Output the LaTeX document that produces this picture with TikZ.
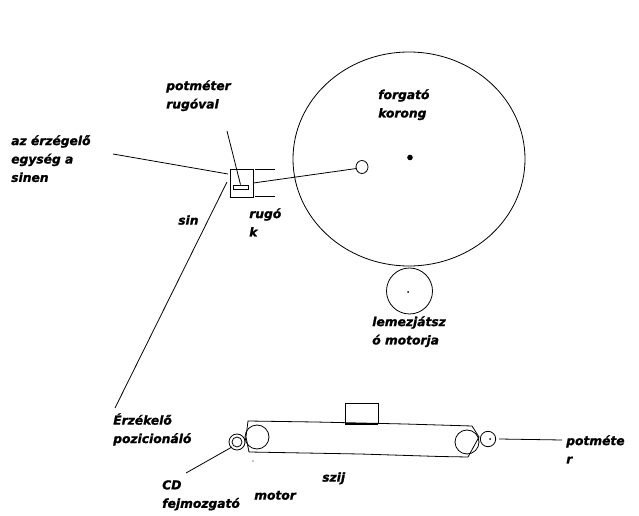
\documentclass[tikz,border=0pt]{standalone}
\usepackage{fontspec}
\setmainfont{DejaVu Sans}
\newfontfamily\lblfont[FakeBold=1.2]{DejaVu Sans}
\begin{document}
\begin{tikzpicture}[x=0.75pt,y=-0.75pt,
  ln/.style={draw=black,line width=0.6pt},
  lbl/.style={anchor=north west,inner sep=0pt,align=left,font=\lblfont\fontsize{9.2pt}{13.8pt}\selectfont\bfseries\itshape,execute at begin node=\rule{0pt}{10pt}}]
\useasboundingbox (0,0) rectangle (639,516);
\fill[white] (0,0) rectangle (639,516);
% turntable
\draw[ln] (409,159) ellipse [x radius=116,y radius=107];
\draw[ln] (362,167) ellipse [x radius=6,y radius=6.5];
\fill (410,157.5) circle (2.8);
\draw[ln] (409.5,291) circle (23);
\fill (408,292) circle (1);
% sensor carriage
\node[ln,rectangle,inner sep=0pt,minimum width=17.25pt,minimum height=21pt] (carriage) at (241.5,183) {};
\node[ln,rectangle,inner sep=0pt,minimum width=11.25pt,minimum height=3pt] (slider) at (240.5,187) {};
\coordinate (railA) at (113,154); \coordinate (railB) at (228,174);
\coordinate (railC) at (227,182); \coordinate (railD) at (115,408);
\coordinate (potTop) at (227,131);
\coordinate (pin) at (356.5,168.5);
\draw[ln] (railA) -- (railB);
\draw[ln] (railC) -- (railD);
\draw[ln] (potTop) -- (slider.north);
\draw[ln] (255,169) -- (275,169);
\draw[ln] (255,196) -- (275,196);
\draw[ln] (carriage.east) -- (pin);
% belt drive
\draw[ln] (257,437) circle (12);
\draw[ln] (237,442) circle (8);
\draw[ln] (237,442) circle (5);
\draw[ln] (467,442) circle (12);
\draw[ln] (488,439) circle (7.7);
\fill (490,439) circle (1);
\draw[ln] (249,452) -- (246,437) -- (248,421) -- (315,422) -- (405,424) -- (472,426) -- (479,437) -- (468,457) -- (440,456.5) -- (360,454) -- (249,452);
\draw[ln] (345,424) -- (345,403) -- (378,403) -- (378,424);
\draw[black,line width=1pt] (345,424) -- (378,424);
\draw[ln] (499,439) -- (562,440);
\draw[ln] (186,473) -- (232,447);
\fill (253,461) circle (0.6);
% labels
\node[lbl] (l1) at (166,80) {potméter\\rugóval};
\node[lbl] (l2) at (11,135) {az érzégelő\\egység a\\sinen};
\node[lbl] (l3) at (378,89) {forgató\\korong};
\node[lbl] (l4) at (178,211) {sin};
\node[lbl] (l5) at (249,208) {rugó\\k};
\node[lbl] (l6) at (372,316) {lemezjátsz\\ó motorja};
\node[lbl] (l7) at (113,413) {Érzékelő\\pozicionáló};
\node[lbl] (l8) at (162,480) {CD\\fejmozgató};
\node[lbl] (l9) at (254,486) {motor};
\node[lbl] (l10) at (322,468) {szij};
\node[lbl] (l11) at (566,435) {potméte\\r};
\end{tikzpicture}
\end{document}
